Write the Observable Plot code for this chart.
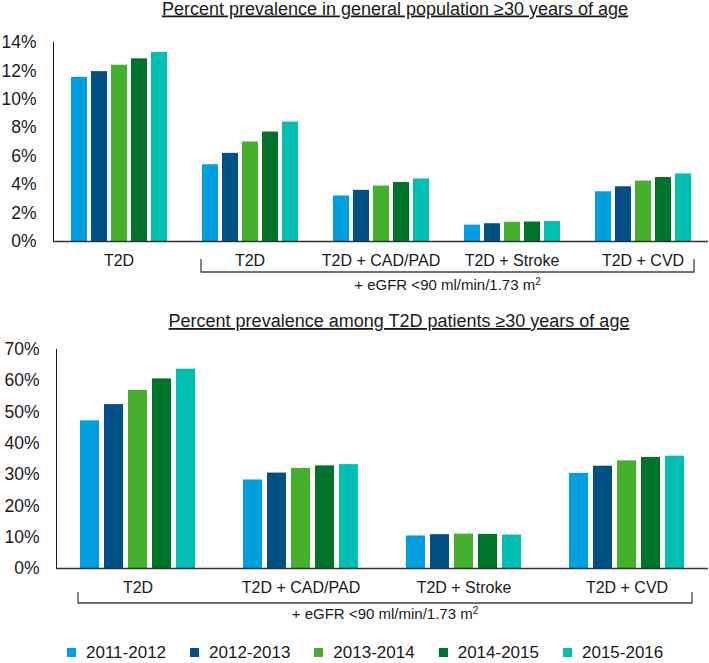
<!DOCTYPE html>
<html>
<head>
<meta charset="utf-8">
<script src="https://cdn.jsdelivr.net/npm/d3@7"></script>
<script src="https://cdn.jsdelivr.net/npm/@observablehq/plot@0.6"></script>
<style>
  html, body { margin: 0; padding: 0; background: #fff; }
  #chart { position: relative; width: 709px; height: 663px; overflow: hidden;
           font-family: "Liberation Sans", Arial, sans-serif; color: #1a1a1a; }
  #chart > svg, #chart > div { position: absolute; }
  .lg-swatches-wrap .lg-swatch { margin-right: 24px !important; }
  .lg-swatch > svg { margin-right: 10px !important; }
</style>
</head>
<body>
<div id="chart"></div>
<script>
// ---------------- data ----------------
const years = ["2011-2012", "2012-2013", "2013-2014", "2014-2015", "2015-2016"];
const colors = ["#00a0e0", "#004f85", "#44b02c", "#00732b", "#00bfb2"];

// Top panel: percent prevalence in general population >=30 years
const topGroups = ["T2D", "T2D eGFR", "T2D + CAD/PAD", "T2D + Stroke", "T2D + CVD"];
const topLabels = ["T2D", "T2D", "T2D + CAD/PAD", "T2D + Stroke", "T2D + CVD"];
const topT2D      = [11.55, 11.95, 12.4, 12.85, 13.3];
const topT2DeGFR  = [5.4, 6.2, 7.0, 7.7, 8.4];
const topCADPAD   = [3.2, 3.6, 3.9, 4.15, 4.4];
const topStroke   = [1.15, 1.25, 1.35, 1.37, 1.4];
const topCVD      = [3.5, 3.85, 4.25, 4.5, 4.75];
const topTicks    = [0, 2, 4, 6, 8, 10, 12, 14];

// Bottom panel: percent prevalence among T2D patients >=30 years
const botGroups = ["T2D", "T2D + CAD/PAD", "T2D + Stroke", "T2D + CVD"];
const botT2D      = [47.2, 52.4, 56.9, 60.6, 63.7];
const botCADPAD   = [28.3, 30.5, 32.0, 32.8, 33.2];
const botStroke   = [10.4, 10.8, 11.0, 10.9, 10.7];
const botCVD      = [30.4, 32.7, 34.4, 35.5, 35.9];
const botTicks    = [0, 10, 20, 30, 40, 50, 60, 70];

const topTitle = "Percent prevalence in general population \u226530 years of age";
const botTitle = "Percent prevalence among T2D patients \u226530 years of age";
const bracketText = "+ eGFR <90 ml/min/1.73 m";

// ---------------- build ----------------
const FONT = "'Liberation Sans', Arial, sans-serif";
const topValues = [topT2D, topT2DeGFR, topCADPAD, topStroke, topCVD];
const botValues = [botT2D, botCADPAD, botStroke, botCVD];
const table = (groups, values) =>
  groups.flatMap((g, i) => years.map((y, j) => ({group: g, year: y, value: values[i][j]})));
const topData = table(topGroups, topValues);
const botData = table(botGroups, botValues);

function chart(data, groups, labels, ticks, o) {
  return Plot.plot({
    width: 709, height: o.height,
    marginTop: o.mt, marginBottom: o.mb, marginLeft: o.ml, marginRight: 1,
    style: {fontFamily: FONT, fontSize: "17.5px", color: "#1a1a1a", background: "transparent", overflow: "visible"},
    facet: {data, x: "group"},
    fx: {domain: groups, padding: 0, axis: "bottom", label: null, tickSize: 0, tickPadding: 13,
         tickFormat: d => labels[groups.indexOf(d)]},
    x: {domain: years, axis: null, paddingInner: 0.2, paddingOuter: o.po},
    y: {domain: [0, ticks[ticks.length - 1]], ticks, tickFormat: d => d + "%", label: null,
        tickSize: 0, tickPadding: 17, line: true},
    color: {domain: years, range: colors},
    marks: [
      Plot.barY(data, {x: "year", y: "value", fill: "year"}),
      Plot.ruleY([0], {stroke: "#333", strokeWidth: 1.5})
    ]
  });
}

const root = document.getElementById("chart");
const topPlot = chart(topData, topGroups, topLabels, topTicks, {height: 300, mt: 42, mb: 59, ml: 52, po: 0.8});
topPlot.style.left = "0px"; topPlot.style.top = "0px";
root.appendChild(topPlot);
const botPlot = chart(botData, botGroups, botGroups, botTicks, {height: 330, mt: 49, mb: 62, ml: 55, po: 0.865});
botPlot.style.left = "0px"; botPlot.style.top = "300px";
root.appendChild(botPlot);

for (const p of [topPlot, botPlot]) {
  p.querySelectorAll('[aria-label^="fx-axis"] text').forEach(t => t.style.fontSize = "16px");
  // grey vertical axis line
  p.querySelectorAll('[aria-label="y-axis line"]').forEach(g => g.style.color = "#6e6e6e");
  p.querySelectorAll('[aria-label^="y-axis"] .domain').forEach(g => g.style.color = "#6e6e6e");
}

// legend
const legend = Plot.legend({
  color: {type: "ordinal", domain: years, range: colors},
  legend: "swatches", swatchSize: 9, className: "lg",
  style: {fontSize: "17px", fontFamily: FONT, color: "#1a1a1a", margin: "0"}
});
legend.style.left = "67px"; legend.style.top = "636px";
root.appendChild(legend);

// overlay: titles, brackets
const rootBox = root.getBoundingClientRect();
function barExtent(svg, skip) {
  const boxes = Array.from(svg.querySelectorAll("rect"))
    .map(r => r.getBoundingClientRect()).filter(b => b.width > 0 && b.height > 0)
    .sort((a, b) => a.left - b.left).slice(skip);
  return [d3.min(boxes, b => b.left) - rootBox.left, d3.max(boxes, b => b.right) - rootBox.left];
}
const overlay = d3.create("svg").attr("width", 709).attr("height", 663)
  .style("left", "0px").style("top", "0px").style("pointer-events", "none")
  .style("font-family", FONT).style("fill", "#1a1a1a");

function title(text, x, y) {
  overlay.append("text").attr("x", x).attr("y", y).attr("text-anchor", "middle")
    .style("font-size", "18px").style("text-decoration", "underline").text(text);
}
title(topTitle, 395, 14.5);
title(botTitle, 399, 327);

function bracket(ext, padL, padR, y0, y1, ty) {
  const l = ext[0] - padL, r = ext[1] + padR;
  overlay.append("path")
    .attr("d", `M${l},${y0}V${y1}H${r}V${y0}`)
    .attr("fill", "none").attr("stroke", "#444").attr("stroke-width", 1.3);
  const t = overlay.append("text").attr("x", (l + r) / 2).attr("y", ty)
    .attr("text-anchor", "middle").style("font-size", "15px");
  t.append("tspan").text(bracketText);
  t.append("tspan").attr("dy", "-5").style("font-size", "10px").text("2");
}
bracket(barExtent(topPlot, years.length), 1, 3, 259, 272, 289.5);
bracket(barExtent(botPlot, 0), 2, 8, 592, 603, 618.5);

root.appendChild(overlay.node());
</script>
</body>
</html>
